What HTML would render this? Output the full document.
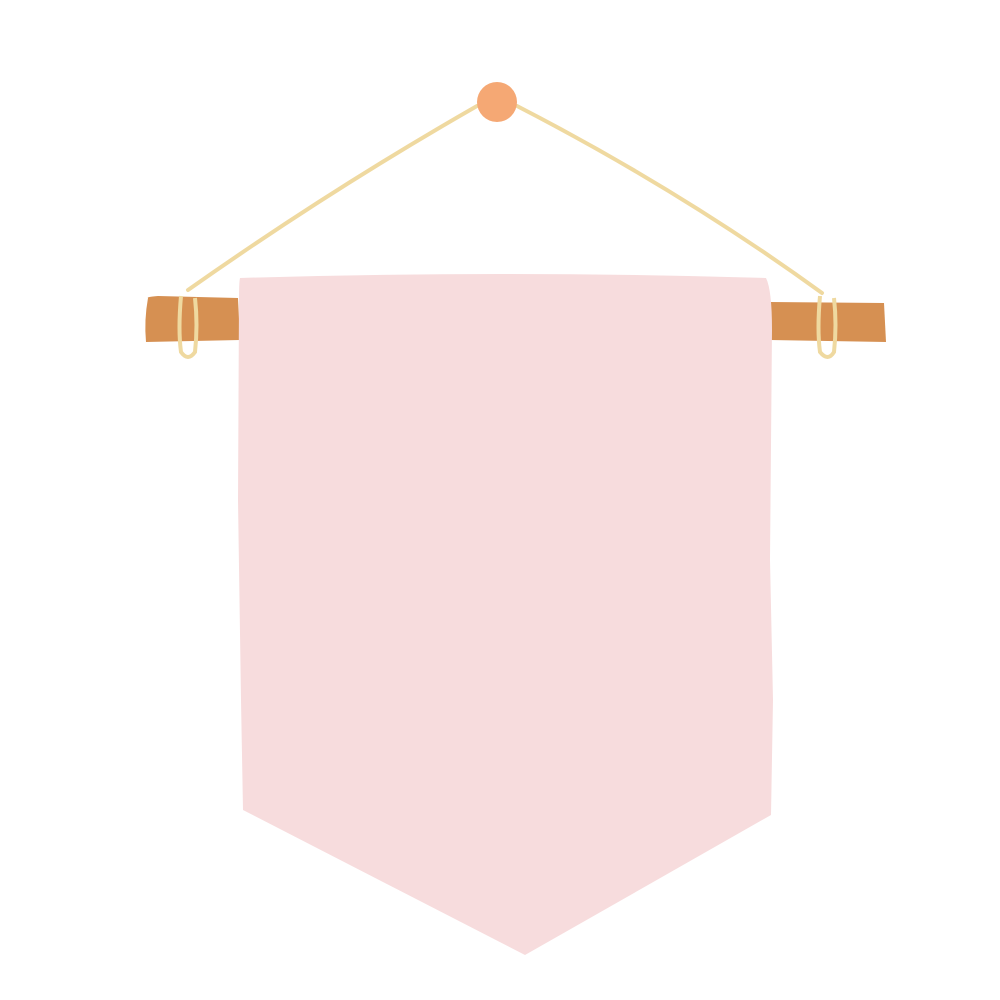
<!DOCTYPE html>
<html>
<head>
<meta charset="utf-8">
<style>
  html,body{margin:0;padding:0;background:#fff;}
  svg{display:block;}
</style>
</head>
<body>
<svg width="1000" height="1000" viewBox="0 0 1000 1000" xmlns="http://www.w3.org/2000/svg">
  <rect width="1000" height="1000" fill="#ffffff"/>
  <!-- stick -->
  <path d="M148,298 Q146,297 158,296 L238,298 L240,340 L146,342 Q144,320 148,298 Z" fill="#D69052"/>
  <path d="M770,302 L884,303 L886,342 L770,340 Z" fill="#D69052"/>
  <!-- strings -->
  <path d="M477,106 Q330,190 188,290" fill="none" stroke="#EFD9A0" stroke-width="4" stroke-linecap="round"/>
  <path d="M517,106 Q680,190 822,293" fill="none" stroke="#EFD9A0" stroke-width="4" stroke-linecap="round"/>
  <!-- pennant -->
  <path d="M240,278 Q500,270 766,278 Q772,290 772,330 L770,560 L773,700 L771,815 L525,955 L243,810 L241,700 L238,500 L239,300 Q239,282 240,278 Z" fill="#F7DCDD"/>
  <!-- loops -->
  <path d="M181,296 Q178,330 181,352 Q188,362 195,352 Q198,325 195,298" fill="none" stroke="#EFD9A0" stroke-width="4"/>
  <path d="M820,296 Q817,330 820,352 Q828,362 834,352 Q837,325 834,298" fill="none" stroke="#EFD9A0" stroke-width="4"/>
  <!-- pin -->
  <circle cx="497" cy="102" r="20" fill="#F5A874"/>
</svg>
</body>
</html>
